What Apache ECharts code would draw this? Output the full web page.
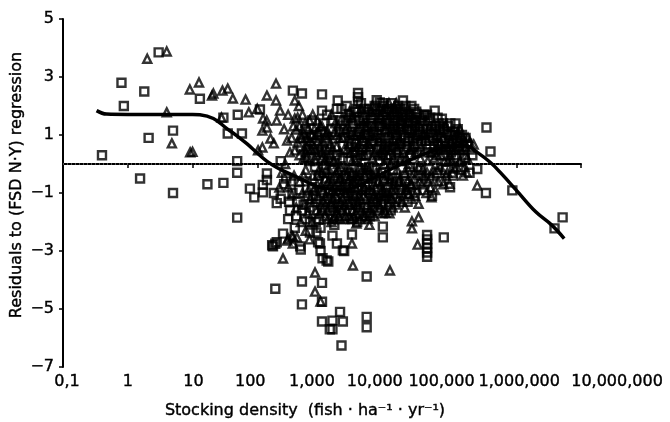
<!DOCTYPE html>
<html>
<head>
<meta charset="utf-8">
<script src="https://cdn.jsdelivr.net/npm/echarts@6/dist/echarts.min.js"></script>
<style>
html,body{margin:0;padding:0;background:#fff;}
#chart{width:670px;height:422px;}
</style>
</head>
<body>
<div id="chart"></div>
<script>
// ---- data ----
const xTickLabels = ['0,1','1','10','100','1,000','10,000','100,000','1,000,000','10,000,000'];
const yTickValues = [-7,-5,-3,-1,1,3,5];

const squares = [
  [0.4,0.3],[0.8,2.8],[0.87,2.0],[1.8,2.5],[2.1,0.9],[1.55,-0.5],[3.0,3.85],[5,1.15],[5,-1.0],[13,2.25],
  [17,-0.7],[30,-0.65],[49,0.1],[49,-0.3],[50,1.7],[58,1.05],[35,1.05],[30,1.6],[77,-0.85],[90,-1.15],
  [122,-0.98],[122,-0.72],[141,-0.33],[141,-0.55],[200,-1.35],[110,1.88],[49,-1.85],[355,2.53],[490,2.43],[1000,2.4],[1000,1.84],
  [175,-2.84],[190,-2.75],[190,-4.3],[460,-2.84],[470,-2.95],[490,-4.05],[490,-4.84],[930,-2.74],[950,-3.0],
  [1000,-4.1],[1000,-4.75],[1000,-5.43],[1320,-5.7],[1250,-3.36],[1180,-3.33],[1020,-3.25],[4900,-3.88],
  [42000,-2.45],[42000,-2.6],[42000,-2.75],[42000,-2.9],[42000,-3.05],[42000,-3.2],[1450,-5.4],[2100,-5.43],
  [1450,-5.7],[4900,-5.27],[4900,-5.63],[2000,-6.26],[8700,-2.16],[8700,-2.53],[76000,-2.53],[2900,-2.43],
  [2200,-3.0],[1900,-5.1],[650,-2.36],[820,-2.36],[870,-2.7],[1450,-2.47],[1700,-2.74],[2100,-2.98],
  [320,-1.6],[490,-1.6],[170,-2.8],[200,-2.7],[4900,-1.7],
  [17800,2.19],[3600,2.3],[3600,2.45],[3600,2.15],[347000,1.26],[400000,0.43],[250000,-0.17],[340000,-1.0],
  [870000,-0.91],[115000,1.4],[71000,1.56],[55000,1.84],[29000,1.73],[39000,1.67],[7800,2.12],[1750,2.19],
  [5200000,-1.84],[3900000,-2.22],
  [1050,1.4],[1100,0.9],[1200,1.7],[1300,0.3],[1400,1.2],[1500,-0.2],[1600,0.6],[1700,1.9],[1900,1.5],
  [1150,-0.6],[1250,-1.2],[1350,-1.6],[1450,-1.9],[1550,-2.1],[1800,-1.4],[1900,-0.9],[1000,-1.0],[1100,-1.5],
  [900,-1.9],[950,-2.2],[800,-1.2],[700,-0.8],[750,-1.6],[600,-1.1],[550,-1.9],[650,-2.0],
  [2000,1.9],[2200,1.2],[2400,2.0],[2600,0.8],[2800,1.6],[3000,1.4],[3200,0.4],[3400,1.9],[3700,1.1],
  [2100,0.2],[2300,-0.4],[2500,-1.1],[2700,-1.6],[2900,-1.9],[3100,-0.7],[3300,-1.3],[3500,-2.0],[3800,-0.2],
  [4000,2.1],[4300,1.6],[4600,1.0],[4900,1.22],[5200,1.8],[5600,0.5],[6000,1.3],[6500,2.0],[7000,0.9],[7500,1.6],
  [4100,-0.9],[4500,-1.5],[5000,-0.4],[5500,-1.8],[6100,-1.2],[6800,-0.6],[7200,-1.6],[7800,0.1],
  [8000,1.9],[8500,1.3],[9000,2.0],[9500,0.7],[10000,1.5],[11000,1.9],[12000,1.1],[13000,1.7],[14000,0.4],[15000,2.0],
  [8200,-0.3],[9200,-1.2],[10500,-0.8],[11500,-1.6],[12500,-0.2],[13500,-1.3],[15500,-0.9],[9800,0.2],
  [16500,1.4],[17500,1.8],[19000,0.9],[20000,1.6],[22000,1.2],[24000,2.0],[26000,0.6],[28000,1.5],[30000,1.0],
  [17000,0.1],[19500,-0.6],[21000,-1.3],[23000,-0.1],[27000,-1.0],[31000,-0.4],
  [33000,1.6],[36000,1.2],[40000,0.8],[44000,1.5],[48000,1.1],[52000,0.4],[58000,1.3],[62000,0.7],
  [34000,-0.2],[38000,-0.9],[45000,-0.5],[50000,-1.1],[60000,-0.3],
  [66000,1.2],[72000,0.9],[78000,0.3],[85000,1.1],[92000,0.6],[100000,1.0],[110000,0.2],[120000,0.8],
  [70000,-0.6],[82000,-0.2],[95000,-0.8],[105000,-0.4],
  [130000,0.5],[145000,1.0],[160000,0.2],[175000,0.7],[190000,-0.3],[140000,-0.2],[210000,0.3],
  [230,0.1],[280,-0.5],[350,-1.0],[420,-1.3],[480,0.6],[560,1.2],[620,0.2],[700,1.5],[760,0.5],[850,1.0],
  [900,-0.4],[300,-1.9],[380,-2.2],[250,-2.4],
  [600,0.5],[680,1.0],[780,-0.1],[880,0.4],[980,1.1],[1080,-0.3],[1180,0.8],[1280,-0.9],[1380,0.1],[1480,1.5],
  [1580,-1.2],[1680,0.3],[1780,-0.5],[1880,1.1],[1980,-1.6],[2150,0.9],[2350,1.5],[2550,0.1],[2750,1.1],[2950,-0.4],
  [3150,1.8],[3350,0.7],[3550,-0.9],[3750,1.5],[3950,0.3],[4200,0.8],[4450,1.9],[4700,-0.2],[4950,0.9],[5250,1.3],
  [5500,-1.0],[5800,0.7],[6200,1.6],[6600,-0.2],[7000,2.2],[7400,1.0],[7900,1.4],[8300,0.6],[8800,1.7],[9300,1.1],
  [9800,1.8],[10300,0.9],[10800,1.4],[11300,0.5],[11800,2.1],[12300,1.6],[12800,0.8],[13300,1.2],[13800,1.9],[14300,0.9],
  [14800,1.5],[15300,0.2],[16000,1.9],[17000,1.1],[18000,1.6],[18500,0.5],[19500,2.0],[20500,1.2],[21500,0.8],[22500,1.5],
  [23500,0.3],[25000,1.4],[26500,1.9],[27500,0.9],[29000,0.4],[32000,1.3],[34500,0.8],[37500,1.7],[41000,1.2],[43000,0.4],
  [47000,1.6],[51000,0.9],[55000,1.2],[61000,1.6],[65000,0.5],[74000,1.4],[80000,0.8],[88000,1.3],[98000,0.4],[108000,1.0],
  [118000,0.3],[125000,1.2],[150000,0.6],[165000,0.9],
  [180,-1.0],[230,-1.2],[260,-0.7],[310,-1.3],[330,-0.6],[400,-1.8],[440,-0.9],[520,-1.4],[580,-0.6],[640,-1.5],
  [720,-1.1],[800,-2.0],
  [2600,1.7],[2850,0.6],[3050,1.0],[3300,1.5],[3450,0.2],[3650,1.8],[3900,1.2],[4150,0.5],[4400,1.3],[4650,1.7],
  [4850,0.3],[5100,1.0],[5350,1.9],[5650,1.4],[5950,0.8],[6300,1.1],[6700,1.7],[7100,0.5],[7600,1.3],[8100,0.9],
  [8600,2.1],[9100,0.5],[9600,1.4],[10100,1.9],[10600,0.6],[11100,1.2],[11600,0.3],[12100,1.8],[12600,1.3],[13100,0.6],
  [13600,1.5],[14100,1.0],[14600,1.8],[15600,1.2],[16200,0.7],[17200,1.5],[18200,1.0],[19200,1.7],[20200,0.6],[21200,1.4],
  [22200,0.9],[23200,1.7],[24200,1.2],[25500,0.8],[27000,1.3],[28500,1.8],[30500,0.7],[32500,1.1],[35000,1.5],[38500,1.0],
  [42000,1.7],[45500,0.8],[49500,1.3],[54000,0.6],[58500,1.0],[63500,1.4],[69000,0.9],[76000,1.2],[83000,0.5],[90000,1.0],
  [96000,1.4],[103000,0.7],[113000,1.1],[123000,0.6],[135000,0.9],
  [2250,-0.8],[2650,-0.3],[3050,-1.1],[3450,-0.6],[3850,-1.5],[4250,-0.3],[4750,-0.9],[5350,-0.1],[5950,-0.5],[6600,-1.3],
  [7400,-0.9],[8200,-1.4],[9000,-0.6],[9800,-1.0],[11000,-1.2],[12200,-0.5],[14200,-0.6],[16500,-1.0],[18500,-0.4],[22500,-0.8]
];

const triangles = [
  [2.0,3.63],[4.0,3.88],[4.0,1.78],[4.8,0.71],[9.2,0.4],[10,0.42],[9.1,2.57],[12.6,2.81],[20,2.36],[29,2.53],
  [35,2.6],[42,2.26],[66,2.22],[74,1.78],[100,1.9],[141,2.36],[195,2.77],[195,2.19],[225,1.84],[28,1.6],
  [123,1.57],[141,1.26],[200,1.5],[103,0.47],[21,2.43],[140,1.5],[120,1.15],[160,0.88],[120,0.57],[180,0.71],
  [290,0.81],[320,0.4],[380,0.47],[420,0.74],[530,0.53],[570,0.22],[380,1.57],[550,1.4],[400,1.19],[530,1.05],
  [870,1.09],[1050,0.74],[1200,0.47],[380,2.19],[220,-0.81],[340,-1.09],
  [250,-3.26],[290,-2.64],[355,-2.5],[780,-3.74],[780,-4.4],[950,-4.74],[3000,-3.5],[11200,-3.67],
  [24500,-1.98],[24500,-2.22],[30000,-2.78],[3400,-2.05],[5400,-2.1],[300,-2.57],[340,-2.47],[410,-2.53],
  [355,-2.74],[2900,-2.74],[6000,-1.7],[8500,-1.7],
  [250000,-0.74],[220000,0.67],[150000,0.9],[93000,-0.68],[49000,-1.15],[31000,-1.37],[22000,-1.03],
  [170000,-0.29],[19000,-1.5],[31000,-1.84],[11000,-1.7],[9500,-1.68],[112000,-0.16],[190000,0.75],[160000,0.6],
  [420,1.6],[450,1.3],[480,0.9],[520,0.2],[560,-0.2],[600,0.9],[640,1.5],[680,0.5],[720,-0.4],[760,1.2],
  [800,0.1],[840,-0.7],[880,-1.1],[920,0.6],[450,-0.6],[500,-1.0],[540,-1.4],[600,-1.7],[660,-1.2],[700,-2.0],
  [740,-0.9],[820,-1.6],[960,-1.4],
  [1000,-0.3],[1050,-0.9],[1100,-1.8],[1150,0.2],[1200,-1.3],[1250,-0.6],[1300,1.0],[1350,-1.0],[1400,-2.0],
  [1450,0.5],[1500,-1.5],[1550,-0.4],[1600,1.4],[1650,-1.1],[1700,-1.7],[1750,0.0],[1800,-0.6],[1850,0.9],
  [1900,-1.9],[1950,-1.3],[1000,1.3],[1100,0.1],
  [2000,-0.5],[2100,-1.2],[2200,0.5],[2300,-1.8],[2400,-0.9],[2500,1.3],[2600,-0.2],[2700,-1.4],[2800,0.4],
  [2900,-0.8],[3000,-1.6],[3100,1.0],[3200,-1.1],[3300,0.1],[3400,-0.4],[3600,-1.3],[3800,0.7],[3900,-1.9],
  [2050,1.6],[2650,1.8],
  [4000,-0.6],[4200,0.3],[4400,-1.1],[4600,-1.8],[4800,0.6],[5000,-1.4],[5300,-0.2],[5600,1.1],[5900,-0.9],
  [6200,-1.5],[6500,0.4],[6900,-0.3],[7300,-1.1],[7700,0.8],[4300,1.4],[5800,1.8],[7000,1.5],
  [8000,-0.7],[8400,0.5],[8800,-1.3],[9200,0.0],[9600,1.2],[10000,-1.0],[10500,0.3],[11000,-0.4],[11500,1.0],
  [12000,-1.2],[12500,0.6],[13000,-0.6],[14000,1.3],[14500,-0.2],[15000,0.8],[8600,1.8],[10800,2.1],[13500,1.9],
  [16000,-0.5],[17000,0.7],[18000,-1.1],[19000,1.3],[20000,0.2],[21000,-0.6],[22000,1.8],[23000,0.5],
  [24000,-1.2],[25000,1.1],[26500,-0.3],[28000,0.4],[29500,-0.9],[31000,1.4],
  [33000,0.2],[35000,-0.7],[37000,1.0],[39000,0.5],[41000,-1.0],[43000,0.1],[46000,1.3],[49000,-0.4],
  [53000,0.8],[56000,-0.9],[59000,0.3],[63000,1.1],
  [67000,-0.1],[71000,0.6],[75000,-0.7],[80000,1.3],[88000,0.1],[97000,0.8],[104000,-0.3],[115000,0.5],[125000,1.1],
  [135000,0.1],[150000,-0.4],[165000,0.3],[180000,0.9],[200000,0.5],[135000,1.2],
  [450,0.3],[520,-0.4],[580,0.6],[620,-0.9],[700,1.0],[760,-1.3],[830,0.3],[900,-0.2],[960,-0.8],[1020,-1.6],
  [1080,0.5],[1130,-1.1],[1180,-0.2],[1230,-1.9],[1280,0.2],[1330,-0.5],[1380,-1.4],[1430,-0.9],[1480,-1.9],[1530,0.1],
  [1580,-0.8],[1630,-1.5],[1680,0.6],[1730,-1.2],[1780,-0.2],[1830,-1.8],[1880,-0.5],[1930,0.4],[2020,-1.6],[2120,-0.9],
  [2220,-1.4],[2320,-0.2],[2420,-1.6],[2520,-0.6],[2620,0.7],[2720,-1.0],[2820,-1.9],[2920,0.1],[3020,-0.6],[3150,-1.4],
  [3250,0.6],[3400,-1.7],[3550,-0.5],[3700,-1.1],[3850,-0.1],[4000,-1.6],[4150,-0.9],[4350,0.9],[4550,-0.4],[4750,-1.2],
  [4950,-0.7],[5200,0.7],[5450,-1.6],[5700,-0.5],[6000,0.2],[6300,-1.1],[6700,-0.8],[7100,0.3],[7500,-1.4],[7900,-0.3],
  [8300,-1.0],[8700,0.3],[9100,-0.5],[9500,-1.1],[9900,0.6],[10400,-1.4],[10900,-0.6],[11400,0.0],[11900,-0.9],[12400,-1.5],
  [13000,0.2],[13700,-0.9],[14400,0.5],[15200,-1.2],[16000,0.1],[17000,-0.8],[18000,0.4],[19000,-0.3],[20500,-0.9],[22000,0.0],
  [23500,-0.7],[25000,0.5],[27000,-0.5],[29000,1.0],[31000,-0.1],[34000,0.6],[37000,-0.4],[40000,0.9],[44000,-0.6],[48000,0.4],
  [52000,-0.2],[57000,0.5],[62000,-0.6],[68000,0.3],[74000,0.9],[82000,-0.4],[90000,0.5],[100000,0.1],[110000,0.9],[120000,-0.1],
  [140000,0.5],[155000,0.8],[175000,0.2],
  [260,1.2],[300,1.7],[340,0.9],[360,1.3],[440,2.0],[470,1.0],[500,1.7],[560,0.9],[610,1.2],[660,0.8],
  [720,1.7],[780,0.9],[850,1.5],[940,1.3],[1200,1.1],[1400,1.7],[1700,1.0],[2300,1.2],[2900,1.6],[3500,1.1],
  [4000,1.9],[4800,1.5],[6000,2.0],[7300,1.8],[9000,1.5],[11500,1.7],[14000,2.1],[17500,1.5],[21000,1.9],[26000,1.6],
  [240,-0.3],[270,0.0],[300,-0.8],[370,-0.4],[400,-1.5],[470,-2.0],[560,-2.3],[640,-2.6],
  [850,-0.4],[920,-1.7],[990,0.2],[1060,-1.3],[1120,-0.5],[1210,-1.6],[1290,-0.2],[1370,-0.7],[1460,-1.2],[1560,-1.8],
  [1660,-0.3],[1760,-0.9],[1860,-1.5],[1960,-0.1],[2080,-0.7],[2180,-1.9],[2280,-1.0],[2380,-0.4],[2480,-1.3],[2580,-1.8],
  [2680,-0.5],[2780,-1.2],[2880,-0.3],[3080,-1.8],[3300,-0.8],[3500,-1.4],[3750,-0.4],[3950,-1.2],[4250,-1.8],[4500,-0.8],
  [4850,-0.2],[5100,-1.9],[5400,-0.9],[5800,-1.3],[6100,-0.4],[6500,-1.8],[6900,-1.2],[7400,-0.6],[7900,-1.5],[8500,-0.9],
  [9300,-1.6],[10200,-0.4],[11200,-1.1],[12700,-0.7],[14000,-1.4],[15600,-0.6],[17500,-1.3],[19500,-0.9],[21500,-0.2],[24000,-0.7],
  [27500,-1.1],[32000,-0.6],[36000,-0.2],[42000,-0.3],[47000,-0.8],[54000,0.2],[60000,-0.2],[66000,0.7],[78000,0.1],[86000,-0.3],
  [95000,0.3],[105000,0.6],[130000,0.8],[160000,-0.1],
  [560,0.4],[640,0.1],[700,0.7],[790,0.5],[860,0.8],[980,0.4],[1150,1.0],[1350,0.7],[1550,1.1],[1800,1.3],
  [2100,0.9],[2450,0.5],[2800,1.0],[3150,0.4],[3600,0.6],[4100,1.0],[4600,0.3],[5500,0.6],[6800,1.0],[8000,0.4]
];

const trendX = [0.33,0.47,1,3,10,13,21,34,48,69,100,140,200,290,410,700,1000,2000,4000,10000,30000,100000,170000,250000,400000,600000,1000000,2000000,3500000,5500000];
const trendY = [1.84,1.72,1.71,1.71,1.71,1.7,1.57,1.22,0.98,0.7,0.38,0.1,-0.12,-0.3,-0.45,-0.7,-0.82,-0.9,-0.7,-0.25,0.25,0.6,0.62,0.4,0.05,-0.35,-0.9,-1.65,-2.1,-2.57];

const zeroLineX = [0.1, 4400000];
const zeroLineY = [0, 0];

// ---- layout constants (label nudges in px, as placed in the reference) ----
const xLabelNudge = [4, 0, 1, -7, -10, -12, -10, 3, 36];

// ---- chart ----
const chart = echarts.init(document.getElementById('chart'), null, {renderer:'canvas'});
const FONT = 'DejaVu Sans';
const markerStyle = {color:'rgba(0,0,0,0)', borderColor:'#000', borderWidth:2.4};
const textInk = {textBorderColor:'#000', textBorderWidth:0.4};

const rich = {};
xLabelNudge.forEach(function(d, i){
  rich['s' + i] = Object.assign({
    fontFamily:FONT, fontSize:16, color:'#000',
    padding: d >= 0 ? [0, 0, 0, 2 * d] : [0, -2 * d, 0, 0]
  }, textInk);
});

chart.setOption({
  animation:false,
  backgroundColor:'#fff',
  grid:{left:63, right:89, top:19, bottom:55, containLabel:false},
  xAxis:{
    type:'log', logBase:10, min:0.1, max:10000000,
    axisLine:{show:true, lineStyle:{color:'#000', width:2}},
    axisTick:{show:true, length:4, lineStyle:{color:'#000', width:1.5}},
    splitLine:{show:false},
    axisLabel:{
      color:'#000', fontFamily:FONT, fontSize:16, margin:7,
      showMinLabel:true, showMaxLabel:true, hideOverlap:false,
      rich:rich,
      formatter:function(v){
        const i = Math.round(Math.log10(v)) + 1;
        if (!xTickLabels[i]) return '';
        return '{s' + i + '|' + xTickLabels[i] + '}';
      }
    }
  },
  yAxis:{
    type:'value', min:-7, max:5, interval:2,
    axisLine:{show:true, lineStyle:{color:'#000', width:2}},
    axisTick:{show:true, length:4, lineStyle:{color:'#000', width:1.5}},
    splitLine:{show:false},
    axisLabel:Object.assign({
      color:'#000', fontFamily:FONT, fontSize:16, margin:9,
      formatter:function(v){ return yTickValues.indexOf(v) >= 0 ? String(v).replace('-', '\u2212') : ''; }
    }, textInk)
  },
  graphic:[
    {type:'text', x:305, y:411, style:{text:'Stocking density  (fish \u00b7 ha\u207b\u00b9 \u00b7 yr\u207b\u00b9)', font:'16px "DejaVu Sans"', fill:'#000', stroke:'#000', lineWidth:0.4, textAlign:'center', textVerticalAlign:'middle'}},
    {type:'text', x:17, y:185, rotation:Math.PI/2, style:{text:'Residuals to (FSD N\u00b7Y) regression', font:'16px "DejaVu Sans"', fill:'#000', stroke:'#000', lineWidth:0.4, textAlign:'center', textVerticalAlign:'middle'}}
  ],
  series:[
    {type:'line', data:zeroLineX.map((x,i)=>[x, zeroLineY[i]]), symbol:'none', silent:true,
     lineStyle:{color:'#aaa', width:1, type:[1,3]}, z:1},
    {type:'scatter', data:squares, symbol:'rect', symbolSize:8, itemStyle:markerStyle, z:2},
    {type:'scatter', data:triangles, symbol:'triangle', symbolSize:[8,8], itemStyle:markerStyle, z:3},
    {type:'line', data:trendX.map((x,i)=>[x, trendY[i]]), symbol:'none', smooth:0.4,
     lineStyle:{color:'#000', width:3.5}, z:4}
  ]
});
</script>
</body>
</html>
